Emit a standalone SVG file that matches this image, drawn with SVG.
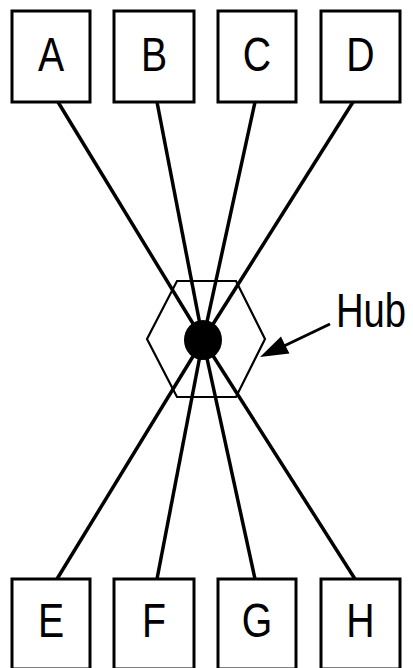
<svg xmlns="http://www.w3.org/2000/svg" width="413" height="668" viewBox="0 0 413 668">
<style>
.box{fill:#fff;stroke:#000;stroke-width:3}
.lbl{font-family:"Liberation Sans",Arial,sans-serif;font-size:49px;fill:#000;text-anchor:middle}
.ln{stroke:#000;stroke-width:3.5;fill:none}
</style>
<rect width="413" height="668" fill="#fff"/>
<g id="connectors">
<line class="ln" x1="58" y1="102" x2="203" y2="340"/>
<line class="ln" x1="157" y1="102" x2="203" y2="340"/>
<line class="ln" x1="255" y1="102" x2="203" y2="340"/>
<line class="ln" x1="353" y1="102" x2="203" y2="340"/>
<line class="ln" x1="57" y1="579" x2="203" y2="340"/>
<line class="ln" x1="157" y1="579" x2="203" y2="340"/>
<line class="ln" x1="255" y1="579" x2="203" y2="340"/>
<line class="ln" x1="355" y1="579" x2="203" y2="340"/>
<line x1="330" y1="324" x2="284" y2="346" stroke="#000" stroke-width="3"/>
<polygon points="260,357 289.5,353.5 285,345 281,336.5" fill="#000"/>
</g>
<g id="hub">
<polygon points="147,339 177,281 236,281 265,339 236,397 177,397" fill="none" stroke="#000" stroke-width="2.2"/>
<ellipse cx="203" cy="340" rx="19" ry="20" fill="#000"/>
<g transform="translate(371 327) scale(0.78 1)"><text x="0" y="0" class="lbl">Hub</text></g>
</g>
<g id="A"><rect class="box" x="12" y="11" width="78" height="91"/><text x="51" y="71" class="lbl" transform="translate(51 0) scale(0.8 1) translate(-51 0)">A</text></g>
<g id="B"><rect class="box" x="114" y="11" width="80" height="91"/><text x="154" y="71" class="lbl" transform="translate(154 0) scale(0.8 1) translate(-154 0)">B</text></g>
<g id="C"><rect class="box" x="218" y="11" width="78" height="91"/><text x="257" y="71" class="lbl" transform="translate(257 0) scale(0.8 1) translate(-257 0)">C</text></g>
<g id="D"><rect class="box" x="321" y="11" width="79" height="91"/><text x="360.5" y="71" class="lbl" transform="translate(360.5 0) scale(0.8 1) translate(-360.5 0)">D</text></g>
<g id="E"><rect class="box" x="12" y="579" width="78" height="90"/><text x="51" y="637" class="lbl" transform="translate(51 0) scale(0.8 1) translate(-51 0)">E</text></g>
<g id="F"><rect class="box" x="114" y="579" width="80" height="90"/><text x="154" y="637" class="lbl" transform="translate(154 0) scale(0.8 1) translate(-154 0)">F</text></g>
<g id="G"><rect class="box" x="218" y="579" width="78" height="90"/><text x="257" y="637" class="lbl" transform="translate(257 0) scale(0.8 1) translate(-257 0)">G</text></g>
<g id="H"><rect class="box" x="321" y="579" width="79" height="90"/><text x="360.5" y="637" class="lbl" transform="translate(360.5 0) scale(0.8 1) translate(-360.5 0)">H</text></g>
</svg>
